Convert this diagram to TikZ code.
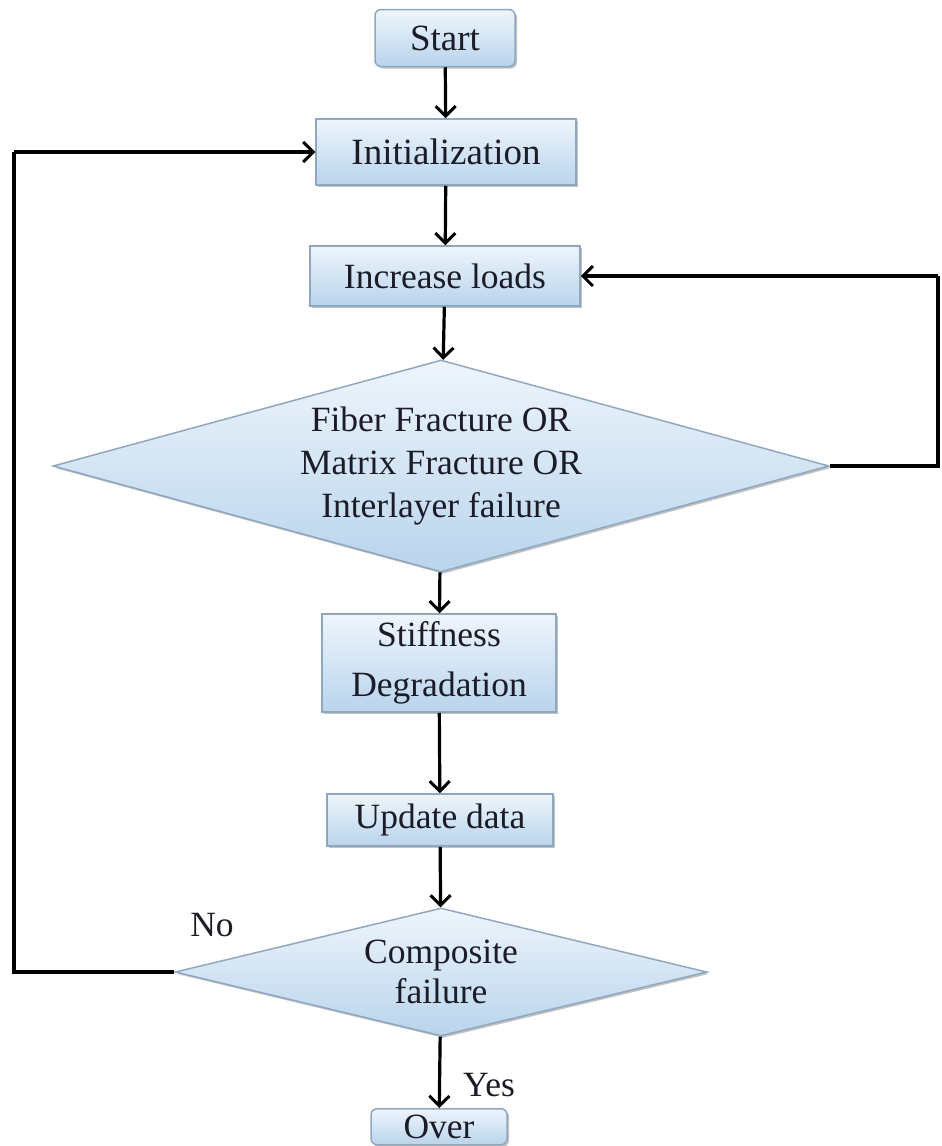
\documentclass[tikz,border=0pt]{standalone}
\usepackage{fontspec}
\setmainfont{Liberation Serif}
\usetikzlibrary{arrows.meta,shapes.geometric,shadows}
\definecolor{boxtop}{HTML}{EEF5FC}
\definecolor{boxbot}{HTML}{B9D4EC}
\definecolor{boxline}{HTML}{8FA8C0}
\definecolor{txt}{HTML}{1C1C28}
\begin{document}
\begin{tikzpicture}[x=1pt,y=-1pt,
  every node/.style={text=txt, font=\fontsize{35.5}{43}\selectfont, align=center},
  procbox/.style={rectangle, draw=boxline, line width=1.5pt, top color=boxtop, bottom color=boxbot,
    drop shadow={shadow xshift=2pt, shadow yshift=-2pt, fill=black!40, opacity=0.6}, inner sep=0pt},
  termbox/.style={procbox, rounded corners=6pt},
  decision/.style={diamond, draw=boxline, line width=1.5pt, top color=boxtop, bottom color=boxbot,
    drop shadow={shadow xshift=2pt, shadow yshift=-2pt, fill=black!40, opacity=0.6}, inner sep=0pt},
  flow/.style={draw=black, line width=3.2pt, -{Straight Barb[length=10pt,width=20pt,line width=3pt]}},
  link/.style={draw=black, line width=3.2pt}
]
\useasboundingbox (0,0) rectangle (942,1146);
\node[termbox, minimum width=140pt, minimum height=57pt, font=\fontsize{37}{43}\selectfont] (start) at (445,38) {Start};
\node[procbox, minimum width=260pt, minimum height=66pt, font=\fontsize{37}{43}\selectfont] (init) at (446,152) {Initialization};
\node[procbox, minimum width=270pt, minimum height=60pt] (load) at (445,276) {Increase loads};
\node[decision, aspect=3.7, minimum width=776pt, minimum height=212pt] (frac) at (441,466)
  {Fiber Fracture OR\\Matrix Fracture OR\\Interlayer failure};
\node[procbox, minimum width=234pt, minimum height=98pt, font=\fontsize{35.5}{50}\selectfont] (stiff) at (439,663)
  {Stiffness\\Degradation};
\node[procbox, minimum width=226pt, minimum height=52pt] (upd) at (440,820) {Update data};
\node[decision, aspect=4.2, minimum width=532pt, minimum height=128pt, font=\fontsize{35.5}{40}\selectfont] (comp) at (441,972)
  {Composite\\failure};
\node[termbox, minimum width=136pt, minimum height=36pt, anchor=north] (over) at (439,1108) {Over};
\node (no) at (212,925) {No};
\node (yes) at (489,1085) {Yes};
\coordinate (lc1) at (14,972);
\coordinate (lc2) at (14,152);
\coordinate (rc1) at (938,466);
\coordinate (rc2) at (938,276);

\draw[flow] (start) -- (init);
\draw[flow] (init) -- (load);
\draw[flow] (load) -- (frac);
\draw[flow] (frac) -- (stiff);
\draw[flow] (stiff) -- (upd);
\draw[flow] (upd) -- (comp);
\draw[flow] (comp) -- (over);
\draw[link] (comp.west) -- (lc1) -- (lc2);
\draw[flow] (lc2) -- (init.west);
\draw[link] (frac.east) -- (rc1) -- (rc2);
\draw[flow] (rc2) -- (load.east);
\end{tikzpicture}
\end{document}
